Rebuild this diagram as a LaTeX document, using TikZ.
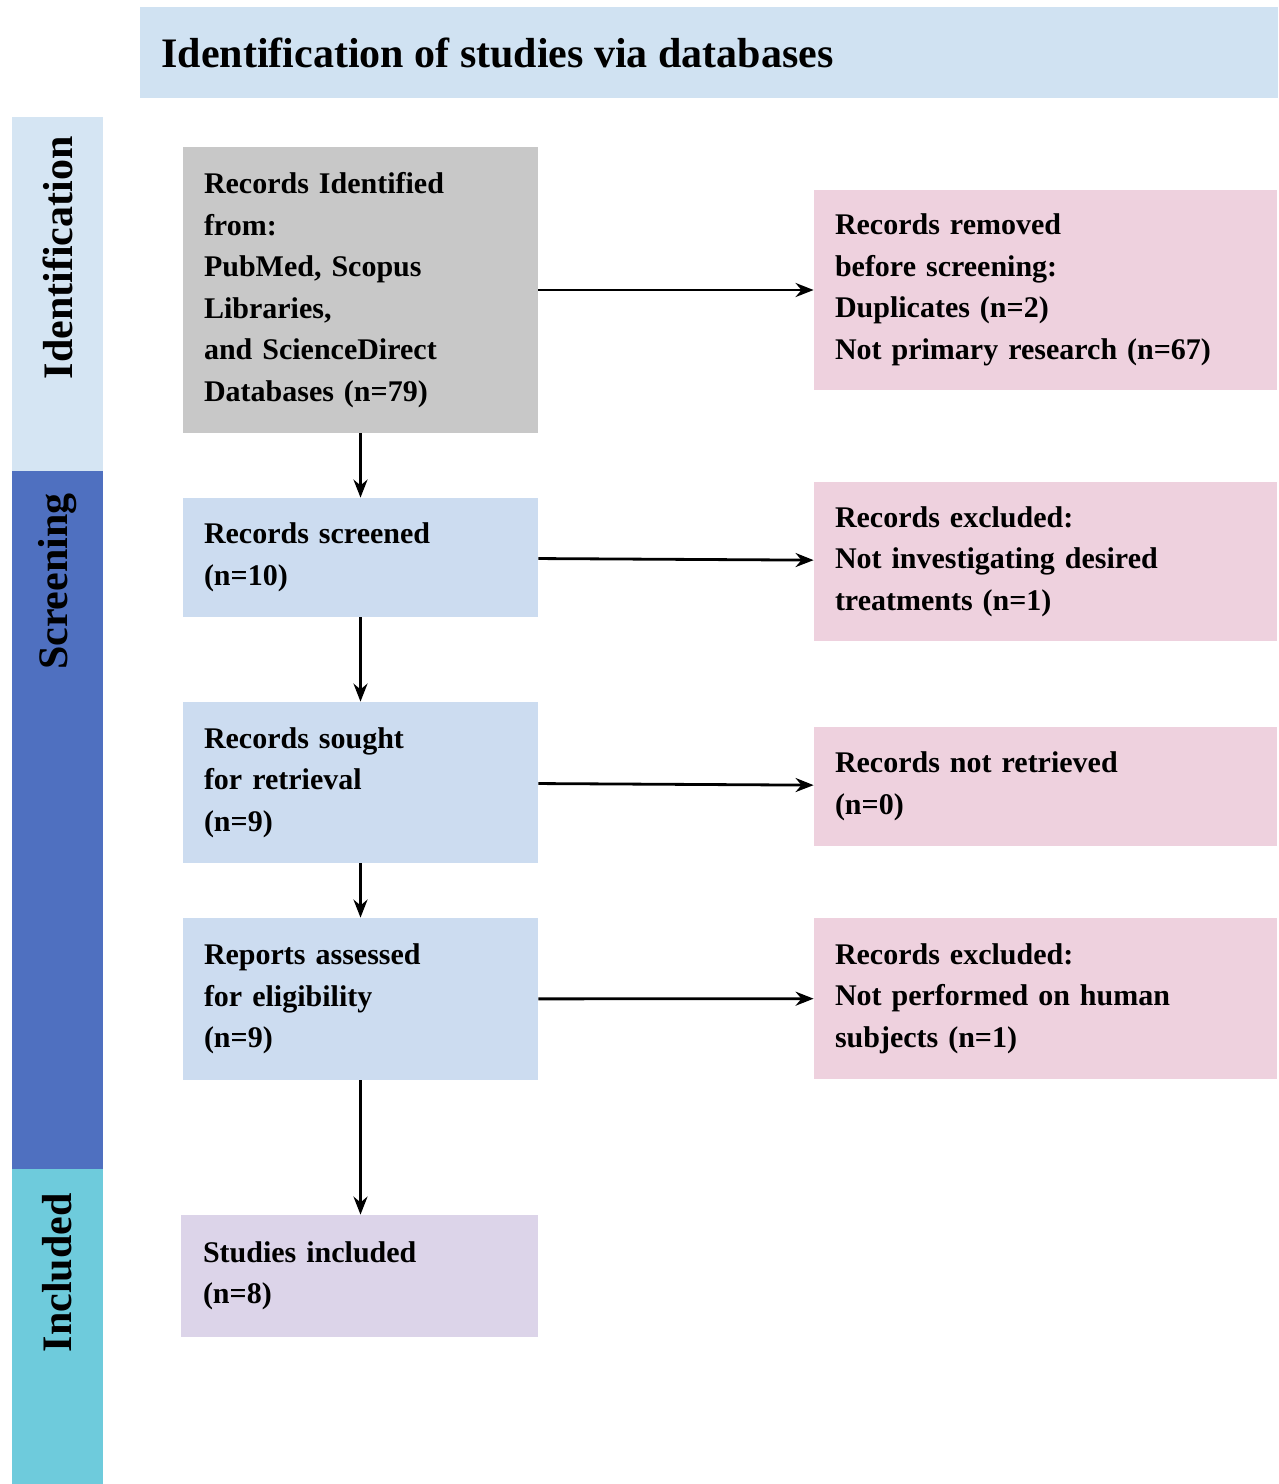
\documentclass[tikz,border=0pt]{standalone}
\usepackage{fontspec}
\setmainfont{Liberation Serif}
\usetikzlibrary{arrows.meta}

\definecolor{titleblue}{HTML}{D0E2F2}
\definecolor{identblue}{HTML}{D5E5F3}
\definecolor{screenblue}{HTML}{4F70C0}
\definecolor{inclcyan}{HTML}{6ECBDC}
\definecolor{boxgray}{HTML}{C8C8C8}
\definecolor{boxblue}{HTML}{CCDCF0}
\definecolor{boxpink}{HTML}{EED1DE}
\definecolor{boxlilac}{HTML}{DCD4E9}

\begin{document}
\begin{tikzpicture}[x=0.5pt,y=-0.5pt,>={Stealth[length=9pt,width=7pt]},
  box/.style={inner xsep=10.5pt, inner ysep=0pt, align=left,
    font=\bfseries\fontsize{15}{20.75}\selectfont},
  leftbox/.style={box, minimum width=177.5pt, text width=156.5pt},
  rightbox/.style={box, minimum width=231.5pt, text width=210.5pt},
  phase/.style={rotate=90, anchor=east, inner sep=0pt,
    font=\bfseries\fontsize{21}{25}\selectfont},
  flow/.style={->, line width=1.4pt}]

\useasboundingbox (0,0) rectangle (1279,1484);

% title bar and phase bars
\fill[titleblue] (140,7) rectangle (1278,98);
\node[anchor=base west, inner sep=0pt, font=\bfseries\fontsize{21}{25}\selectfont] (title) at (161,67) {Identification of studies via databases};

\fill[identblue] (12,117) rectangle (103,471);
\fill[screenblue] (12,471) rectangle (103,1169);
\fill[inclcyan] (12,1169) rectangle (103,1484);

\node[phase] (pident) at (57.5,136) {Identification};
\node[phase] (pscreen) at (57.5,493) {Screening};
\node[phase] (pincl) at (57.5,1193) {Included};

% left column
\node[leftbox, fill=boxgray, minimum height=143pt] (rec) at (360.5,290) {Records Identified\\from:\\PubMed, Scopus\\Libraries,\\and ScienceDirect\\Databases (n=79)};
\node[leftbox, fill=boxblue, minimum height=59.5pt] (scr) at (360.5,557.5) {Records screened\\(n=10)};
\node[leftbox, fill=boxblue, minimum height=80.5pt] (sou) at (360.5,782.5) {Records sought\\for retrieval\\(n=9)};
\node[leftbox, fill=boxblue, minimum height=81pt] (ass) at (360.5,999) {Reports assessed\\for eligibility\\(n=9)};
\node[leftbox, fill=boxlilac, minimum width=178.5pt, minimum height=61pt] (inc) at (359.5,1276) {Studies included\\(n=8)};

% right column
\node[rightbox, fill=boxpink, minimum height=100pt] (rem) at (1045.5,290) {Records removed\\before screening:\\Duplicates (n=2)\\Not primary research (n=67)};
\node[rightbox, fill=boxpink, minimum height=79.5pt] (exc1) at (1045.5,561.5) {Records excluded:\\Not investigating desired\\treatments (n=1)};
\node[rightbox, fill=boxpink, minimum height=59.5pt] (ret) at (1045.5,786.5) {Records not retrieved\\(n=0)};
\node[rightbox, fill=boxpink, minimum height=80.5pt] (exc2) at (1045.5,998.5) {Records excluded:\\Not performed on human\\subjects (n=1)};

\begin{scope}[flow]
\draw (rec) -- (scr);
\draw (scr) -- (sou);
\draw (sou) -- (ass);
\draw (ass.south) -- (inc.north -| ass.south);
\draw (rec) -- (rem);
\draw (scr) -- (exc1);
\draw (sou) -- (ret);
\draw (ass) -- (exc2);
\end{scope}
\end{tikzpicture}
\end{document}
